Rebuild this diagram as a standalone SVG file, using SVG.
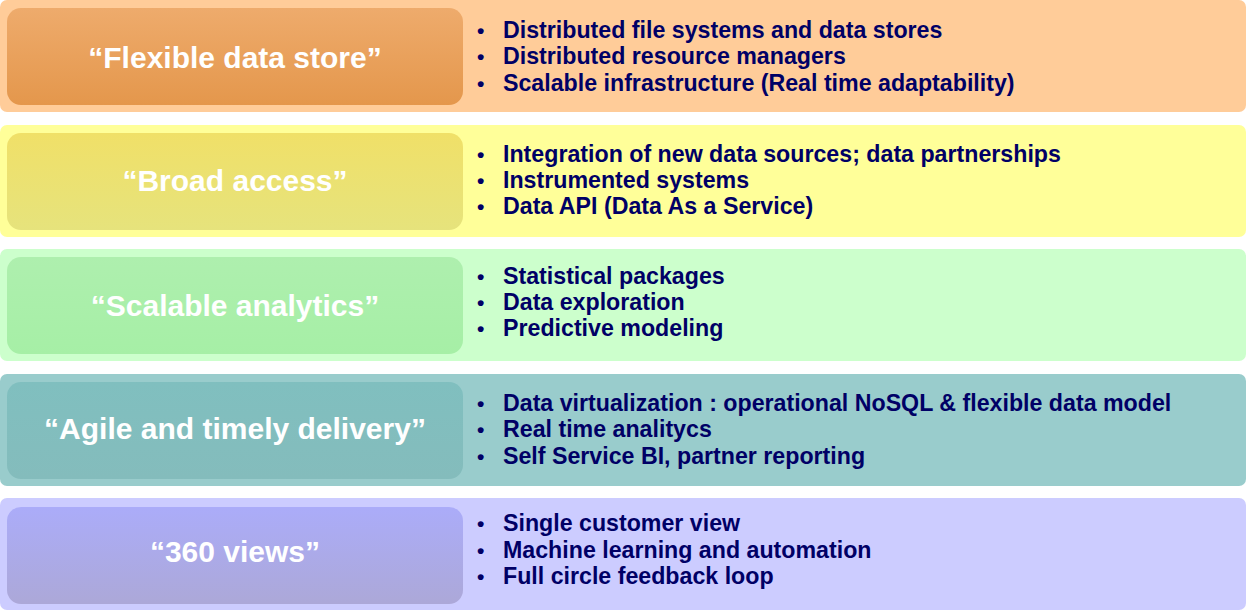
<svg xmlns="http://www.w3.org/2000/svg" width="1246" height="610" viewBox="0 0 1246 610">
  <defs>
    <linearGradient id="g1" x1="0" y1="0" x2="0" y2="1">
      <stop offset="0" stop-color="#EEAB6C"/>
      <stop offset="1" stop-color="#E4974C"/>
    </linearGradient>
    <linearGradient id="g2" x1="0" y1="0" x2="0" y2="1">
      <stop offset="0" stop-color="#F0E068"/>
      <stop offset="1" stop-color="#E6E37C"/>
    </linearGradient>
    <linearGradient id="g3" x1="0" y1="0" x2="0" y2="1">
      <stop offset="0" stop-color="#AEEFAE"/>
      <stop offset="1" stop-color="#A6EFA6"/>
    </linearGradient>
    <linearGradient id="g4" x1="0" y1="0" x2="0" y2="1">
      <stop offset="0" stop-color="#80BFBF"/>
      <stop offset="1" stop-color="#84BCBC"/>
    </linearGradient>
    <linearGradient id="g5" x1="0" y1="0" x2="0" y2="1">
      <stop offset="0" stop-color="#ABACF9"/>
      <stop offset="1" stop-color="#ACA8D8"/>
    </linearGradient>
  </defs>
  <style>
    .band { stroke: none; }
    .title { font-family: "Liberation Sans", Arial, sans-serif; font-weight: bold; font-size: 30px; fill: #FFFFFF; text-anchor: middle; }
    .item { font-family: "Liberation Sans", Arial, sans-serif; font-weight: bold; font-size: 23.2px; fill: #000066; }
    .dot { font-family: "Liberation Sans", Arial, sans-serif; font-weight: bold; font-size: 21px; fill: #000066; }
  </style>

  <g id="flexible-data-store">
    <rect class="band" x="0" y="0" width="1246" height="112" rx="7" fill="#FFCC99"/>
    <rect x="7" y="8" width="456" height="97" rx="14" fill="url(#g1)"/>
    <text class="title" x="235" y="68">“Flexible data store”</text>
    <text class="dot" x="477" y="38">•</text>
    <text class="item" x="503" y="38">Distributed file systems and data stores</text>
    <text class="dot" x="477" y="64">•</text>
    <text class="item" x="503" y="64">Distributed resource managers</text>
    <text class="dot" x="477" y="91">•</text>
    <text class="item" x="503" y="91">Scalable infrastructure (Real time adaptability)</text>
  </g>

  <g id="broad-access">
    <rect class="band" x="0" y="125" width="1246" height="112" rx="7" fill="#FFFF99"/>
    <rect x="7" y="133" width="456" height="97" rx="14" fill="url(#g2)"/>
    <text class="title" x="235" y="191">“Broad access”</text>
    <text class="dot" x="477" y="162">•</text>
    <text class="item" x="503" y="162">Integration of new data sources; data partnerships</text>
    <text class="dot" x="477" y="188">•</text>
    <text class="item" x="503" y="188">Instrumented systems</text>
    <text class="dot" x="477" y="214">•</text>
    <text class="item" x="503" y="214">Data API (Data As a Service)</text>
  </g>

  <g id="scalable-analytics">
    <rect class="band" x="0" y="249" width="1246" height="112" rx="7" fill="#CCFFCC"/>
    <rect x="7" y="257" width="456" height="97" rx="14" fill="url(#g3)"/>
    <text class="title" x="235" y="316">“Scalable analytics”</text>
    <text class="dot" x="477" y="284">•</text>
    <text class="item" x="503" y="284">Statistical packages</text>
    <text class="dot" x="477" y="310">•</text>
    <text class="item" x="503" y="310">Data exploration</text>
    <text class="dot" x="477" y="336">•</text>
    <text class="item" x="503" y="336">Predictive modeling</text>
  </g>

  <g id="agile-delivery">
    <rect class="band" x="0" y="374" width="1246" height="112" rx="7" fill="#99CCCC"/>
    <rect x="7" y="382" width="456" height="97" rx="14" fill="url(#g4)"/>
    <text class="title" x="235" y="439">“Agile and timely delivery”</text>
    <text class="dot" x="477" y="411">•</text>
    <text class="item" x="503" y="411">Data virtualization : operational NoSQL &amp; flexible data model</text>
    <text class="dot" x="477" y="437">•</text>
    <text class="item" x="503" y="437">Real time analitycs</text>
    <text class="dot" x="477" y="464">•</text>
    <text class="item" x="503" y="464">Self Service BI, partner reporting</text>
  </g>

  <g id="views-360">
    <rect class="band" x="0" y="498" width="1246" height="112" rx="7" fill="#CCCCFF"/>
    <rect x="7" y="507" width="456" height="97" rx="14" fill="url(#g5)"/>
    <text class="title" x="235" y="562">“360 views”</text>
    <text class="dot" x="477" y="531">•</text>
    <text class="item" x="503" y="531">Single customer view</text>
    <text class="dot" x="477" y="558">•</text>
    <text class="item" x="503" y="558">Machine learning and automation</text>
    <text class="dot" x="477" y="584">•</text>
    <text class="item" x="503" y="584">Full circle feedback loop</text>
  </g>
</svg>
